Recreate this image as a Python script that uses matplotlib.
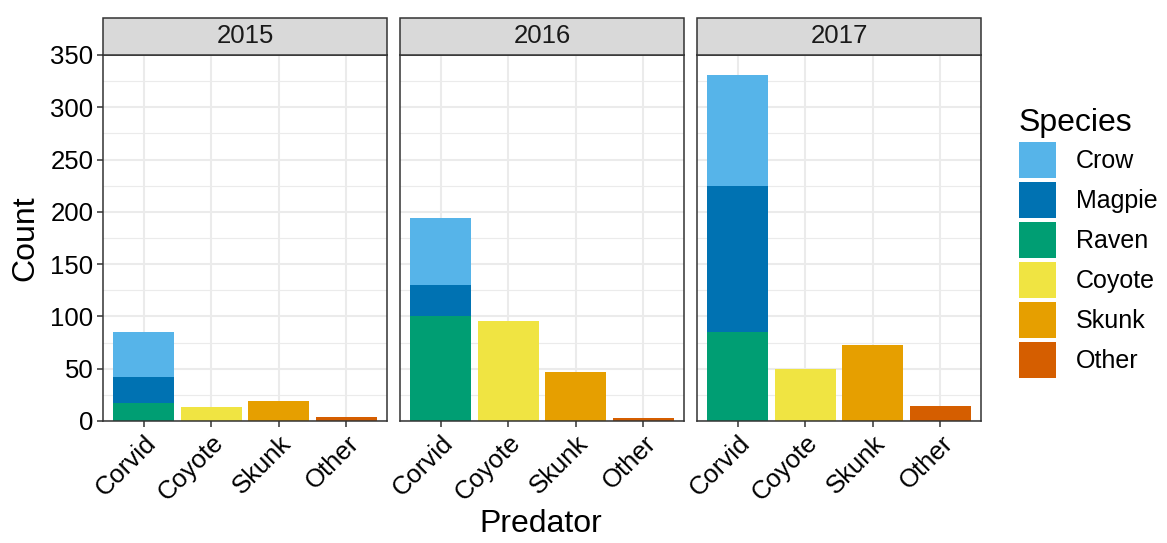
import matplotlib
matplotlib.use("Agg")
import matplotlib.pyplot as plt
from matplotlib.patches import Rectangle, Patch
import numpy as np

plt.rcParams['font.family'] = ['Liberation Sans', 'DejaVu Sans']

years = ['2015', '2016', '2017']
predators = ['Corvid', 'Coyote', 'Skunk', 'Other']
species = ['Crow', 'Magpie', 'Raven', 'Coyote', 'Skunk', 'Other']
colors = {'Crow': '#56B4E9', 'Magpie': '#0072B2', 'Raven': '#009E73',
          'Coyote': '#F0E442', 'Skunk': '#E69F00', 'Other': '#D55E00'}

# Corvid stack (bottom to top: Raven, Magpie, Crow)
raven = [17, 100, 85]
magpie = [25, 30, 140]
crow = [43, 64, 106]
# Other predators
coyote = [13, 96, 50]
skunk = [19, 47, 73]
other = [4, 3, 14]

W, H = 1167, 543
fig = plt.figure(figsize=(W / 100, H / 100), dpi=100)

panels_x = [103, 400, 697]
pw = 284
ptop, pbot = 55, 421
strip_h = 37
grey20 = '#333333'

for i, yr in enumerate(years):
    ax = fig.add_axes([panels_x[i] / W, (H - pbot) / H, pw / W, (pbot - ptop) / H])
    x = np.arange(len(predators))
    # Corvid stacked
    bottom = 0
    for sp, vals in [('Raven', raven), ('Magpie', magpie), ('Crow', crow)]:
        ax.bar(x[0], vals[i], width=0.9, bottom=bottom, color=colors[sp], zorder=3)
        bottom += vals[i]
    ax.bar(x[1], coyote[i], width=0.9, color=colors['Coyote'], zorder=3)
    ax.bar(x[2], skunk[i], width=0.9, color=colors['Skunk'], zorder=3)
    ax.bar(x[3], other[i], width=0.9, color=colors['Other'], zorder=3)

    ax.set_xlim(-0.6, 3.6)
    ax.set_ylim(0, 350)
    ax.set_yticks(np.arange(0, 351, 50))
    ax.set_yticks(np.arange(25, 350, 50), minor=True)
    ax.set_xticks(x)
    ax.set_xticklabels(predators, rotation=45, ha='right', va='top',
                       rotation_mode='anchor', fontsize=18.5, color='black')
    ax.grid(True, which='major', color='#EBEBEB', lw=1.5, zorder=0)
    ax.grid(True, which='minor', axis='y', color='#EBEBEB', lw=0.8, zorder=0)
    ax.set_axisbelow(True)
    ax.tick_params(axis='both', which='major', length=4, width=1.1, color=grey20,
                   labelsize=18.5, labelcolor='black', pad=3)
    ax.tick_params(axis='y', which='minor', length=0)
    if i > 0:
        ax.tick_params(axis='y', which='major', left=False, labelleft=False)
    for s in ax.spines.values():
        s.set_color(grey20)
        s.set_linewidth(1.1)
        s.set_zorder(5)
    # strip
    r = Rectangle((0, 1), 1, strip_h / (pbot - ptop), transform=ax.transAxes,
                  facecolor='#D9D9D9', edgecolor=grey20, lw=1.1, clip_on=False, zorder=6)
    ax.add_patch(r)
    ax.text(0.5, 1 + strip_h / 2 / (pbot - ptop), yr, transform=ax.transAxes,
            ha='center', va='center', fontsize=18.5, color='#1A1A1A', zorder=7)

fig.text(25 / W, 1 - 238 / H, 'Count', rotation=90, ha='center', va='center', fontsize=23)
fig.text(541 / W, 1 - 524 / H, 'Predator', ha='center', va='center', fontsize=23)

handles = [Patch(facecolor=colors[s], edgecolor='none') for s in species]
leg = fig.legend(handles, species, loc='upper left', bbox_to_anchor=(1019 / W, 1 - 108 / H),
                 frameon=False, fontsize=18, title='Species', title_fontsize=23,
                 handlelength=1.48, handleheight=1.84, labelspacing=0.16,
                 handletextpad=0.8, borderpad=0, borderaxespad=0, alignment='left')

fig.savefig('out.png', dpi=100)
